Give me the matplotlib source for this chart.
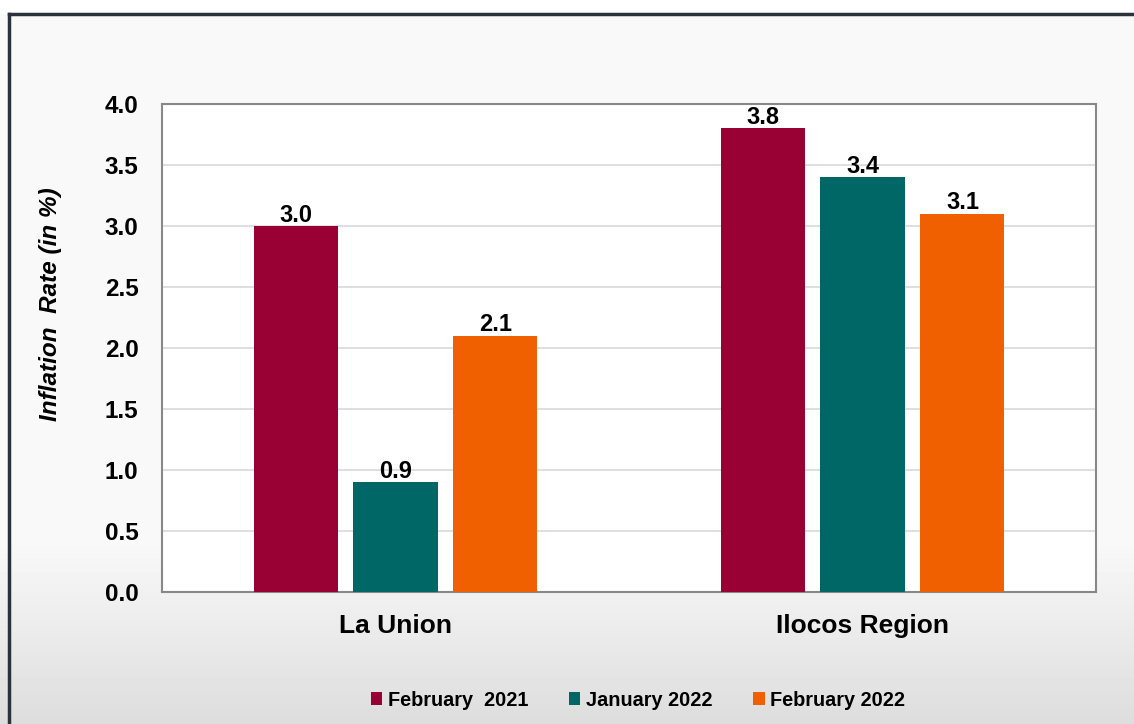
import matplotlib.pyplot as plt
import numpy as np

plt.rcParams['font.family'] = ['Liberation Sans', 'DejaVu Sans']

regions = ['La Union', 'Ilocos Region']
series = ['February  2021', 'January 2022', 'February 2022']
feb_2021 = [3.0, 3.8]
jan_2022 = [0.9, 3.4]
feb_2022 = [2.1, 3.1]
colors = ['#990033', '#006666', '#f06000']

fig = plt.figure(figsize=(11.34, 7.24), dpi=100)

# background: white strip, dark frame, light gradient panel
bg = fig.add_axes([0, 0, 1, 1], zorder=-10)
grad = np.ones((724, 1))
rows = np.arange(724)
grad[:, 0] = np.where(rows < 540, 0.976, 0.976 - (rows - 540) / 184 * 0.11)
bg.imshow(grad, cmap='gray', vmin=0, vmax=1, aspect='auto',
          extent=[0, 1134, 724, 0])
bg.add_patch(plt.Rectangle((0, 0), 1134, 13, color='white'))
bg.plot([9, 1134], [14, 14], color='#2b323b', lw=2.5)
bg.plot([9, 9], [14, 724], color='#2b323b', lw=2.5)
bg.set_xlim(0, 1134)
bg.set_ylim(724, 0)
bg.axis('off')

ax = fig.add_axes([162 / 1134, 1 - 592 / 724, 934 / 1134, 488 / 724])
ax.set_facecolor('white')

x = np.arange(len(regions))
width = 0.18
step = 0.214
for i, (vals, name) in enumerate(zip([feb_2021, jan_2022, feb_2022], series)):
    pos = x + (i - 1) * step
    bars = ax.bar(pos, vals, width, color=colors[i], label=name, zorder=3)
    for b, v in zip(bars, vals):
        ax.text(b.get_x() + b.get_width() / 2, v + 0.09, f'{v:.1f}',
                ha='center', va='center', fontsize=17, fontweight='bold', zorder=4)

ax.set_xlim(-0.5, 1.5)
ax.set_ylim(0, 4.0)
ticks = np.arange(0, 4.01, 0.5)
ax.set_yticks(ticks)
ax.set_yticklabels([f'{t:.1f}' for t in ticks], fontsize=17.5, fontweight='bold')
ax.set_xticks(x)
ax.set_xticklabels(regions, fontsize=19, fontweight='bold')
ax.tick_params(axis='y', length=0, pad=17)
ax.tick_params(axis='x', length=0, pad=16)
ax.grid(axis='y', color='#d9d9d9', lw=1.2, zorder=0)
for s in ax.spines.values():
    s.set_color('#888888')
    s.set_linewidth(1.5)

fig.text(51 / 1134, 1 - 304 / 724, 'Inflation  Rate (in %)', rotation=90,
         ha='center', va='center', fontsize=17.5, fontweight='bold', style='italic')

fig.legend(loc='center', bbox_to_anchor=(638 / 1134, 1 - 700 / 724), ncol=3,
           frameon=False, prop={'size': 14.3, 'weight': 'bold'},
           handlelength=0.6, handleheight=0.6, handletextpad=0.3,
           columnspacing=2.0)

fig.savefig('out.png', dpi=100)
